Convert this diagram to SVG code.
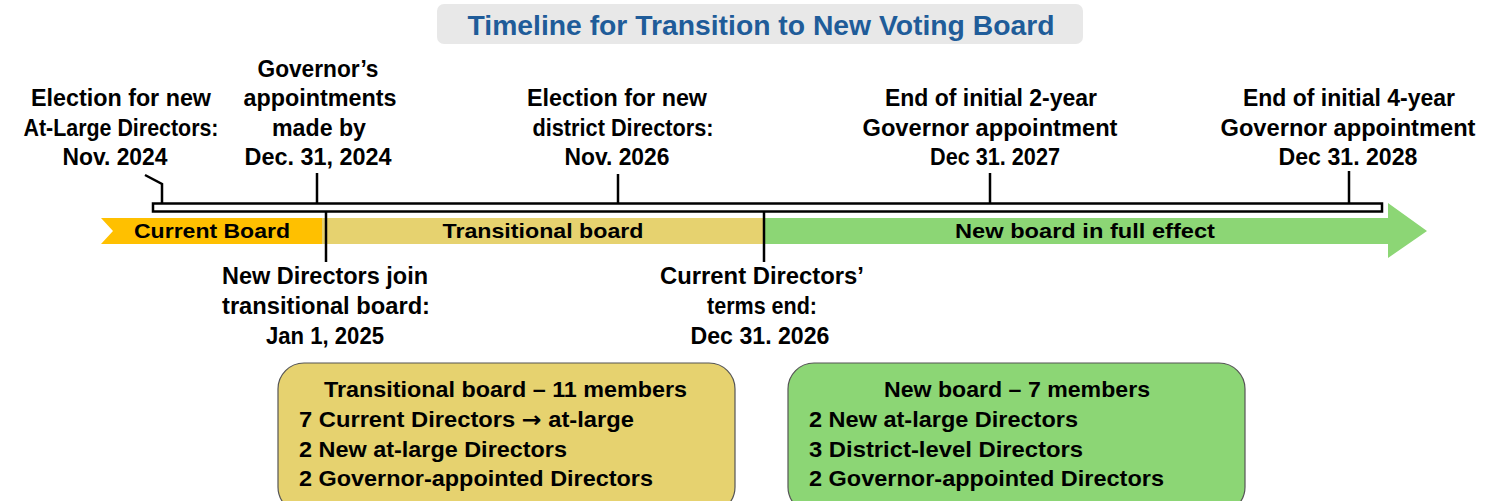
<svg xmlns="http://www.w3.org/2000/svg" width="1494" height="501" viewBox="0 0 1494 501">
  <style>
    text { font-family: "Liberation Sans", "DejaVu Sans", sans-serif; font-weight: bold; fill: #000; }
    .lbl { font-size: 23px; text-anchor: middle; }
    .band { font-size: 21px; text-anchor: middle; }
    .box { font-size: 22px; }
    .arrowglyph { font-family: "DejaVu Sans", sans-serif; }
    .title { font-size: 28px; fill: #1F5C99; text-anchor: middle; }
    .tick { stroke: #000; stroke-width: 2.5; fill: none; }
  </style>

  <rect width="1494" height="501" fill="#ffffff"/>

  <!-- heading -->
  <g id="title">
    <rect x="437" y="4" width="646" height="40" rx="7" fill="#E8E8E8"/>
    <text class="title" x="761" y="35" textLength="587" lengthAdjust="spacingAndGlyphs">Timeline for Transition to New Voting Board</text>
  </g>

  <!-- coloured period bands -->
  <g id="band-current">
    <polygon points="101,218 322,218 322,244 101,244 113,231" fill="#FFC000"/>
    <text class="band" x="212" y="238" textLength="156" lengthAdjust="spacingAndGlyphs">Current Board</text>
  </g>
  <g id="band-transitional">
    <rect x="322" y="218" width="441" height="26" fill="#E6D26F"/>
    <text class="band" x="543" y="238" textLength="201" lengthAdjust="spacingAndGlyphs">Transitional board</text>
  </g>
  <g id="band-new">
    <polygon points="765,218 1388,218 1388,203 1427,231 1388,258 1388,244 765,244" fill="#8CD675"/>
    <text class="band" x="1085" y="238" textLength="260" lengthAdjust="spacingAndGlyphs">New board in full effect</text>
  </g>

  <!-- timeline bar -->
  <g id="timeline">
    <rect x="153" y="203.5" width="1229" height="8" fill="#ffffff" stroke="#000" stroke-width="2.5"/>
  </g>

  <!-- milestone ticks -->
  <g id="connectors">
    <polyline class="tick" points="145,175 162,184 162,203"/>
    <line class="tick" x1="317" y1="173" x2="317" y2="203"/>
    <line class="tick" x1="326" y1="212" x2="326" y2="262"/>
    <line class="tick" x1="618" y1="174" x2="618" y2="203"/>
    <line class="tick" x1="764" y1="212" x2="764" y2="262"/>
    <line class="tick" x1="990" y1="173" x2="990" y2="203"/>
    <line class="tick" x1="1349" y1="171" x2="1349" y2="203"/>
  </g>

  <!-- milestone labels -->
  <g id="m-election-atlarge">
    <text class="lbl" x="121" y="106" textLength="180" lengthAdjust="spacingAndGlyphs">Election for new</text>
    <text class="lbl" x="121" y="136" textLength="195" lengthAdjust="spacingAndGlyphs">At-Large Directors:</text>
    <text class="lbl" x="115" y="165" textLength="105" lengthAdjust="spacingAndGlyphs">Nov. 2024</text>
  </g>
  <g id="m-governor-appointments">
    <text class="lbl" x="318" y="77" textLength="121" lengthAdjust="spacingAndGlyphs">Governor’s</text>
    <text class="lbl" x="320" y="106" textLength="153" lengthAdjust="spacingAndGlyphs">appointments</text>
    <text class="lbl" x="319" y="136" textLength="94" lengthAdjust="spacingAndGlyphs">made by</text>
    <text class="lbl" x="318" y="165" textLength="147" lengthAdjust="spacingAndGlyphs">Dec. 31, 2024</text>
  </g>
  <g id="m-election-district">
    <text class="lbl" x="617" y="106" textLength="180" lengthAdjust="spacingAndGlyphs">Election for new</text>
    <text class="lbl" x="623" y="136" textLength="181" lengthAdjust="spacingAndGlyphs">district Directors:</text>
    <text class="lbl" x="617" y="165" textLength="105" lengthAdjust="spacingAndGlyphs">Nov. 2026</text>
  </g>
  <g id="m-end-2year">
    <text class="lbl" x="991" y="106" textLength="212" lengthAdjust="spacingAndGlyphs">End of initial 2-year</text>
    <text class="lbl" x="990" y="136" textLength="255" lengthAdjust="spacingAndGlyphs">Governor appointment</text>
    <text class="lbl" x="995" y="165" textLength="130" lengthAdjust="spacingAndGlyphs">Dec 31. 2027</text>
  </g>
  <g id="m-end-4year">
    <text class="lbl" x="1349" y="106" textLength="212" lengthAdjust="spacingAndGlyphs">End of initial 4-year</text>
    <text class="lbl" x="1348" y="136" textLength="255" lengthAdjust="spacingAndGlyphs">Governor appointment</text>
    <text class="lbl" x="1348" y="165" textLength="139" lengthAdjust="spacingAndGlyphs">Dec 31. 2028</text>
  </g>
  <g id="m-new-directors-join">
    <text class="lbl" x="325" y="284" textLength="206" lengthAdjust="spacingAndGlyphs">New Directors join</text>
    <text class="lbl" x="326" y="314" textLength="208" lengthAdjust="spacingAndGlyphs">transitional board:</text>
    <text class="lbl" x="325" y="344" textLength="118" lengthAdjust="spacingAndGlyphs">Jan 1, 2025</text>
  </g>
  <g id="m-current-terms-end">
    <text class="lbl" x="762" y="284" textLength="204" lengthAdjust="spacingAndGlyphs">Current Directors’</text>
    <text class="lbl" x="762" y="314" textLength="110" lengthAdjust="spacingAndGlyphs">terms end:</text>
    <text class="lbl" x="760" y="344" textLength="139" lengthAdjust="spacingAndGlyphs">Dec 31. 2026</text>
  </g>

  <!-- board composition boxes -->
  <g id="box-transitional">
    <rect x="278" y="363" width="457" height="150" rx="26" fill="#E6D26F" stroke="#555" stroke-width="1.2"/>
    <text class="box" x="324" y="397" textLength="363" lengthAdjust="spacingAndGlyphs">Transitional board – 11 members</text>
    <text class="box" x="299" y="427" textLength="335" lengthAdjust="spacingAndGlyphs">7 Current Directors <tspan class="arrowglyph">→</tspan> at-large</text>
    <text class="box" x="299" y="457" textLength="268" lengthAdjust="spacingAndGlyphs">2 New at-large Directors</text>
    <text class="box" x="299" y="486" textLength="354" lengthAdjust="spacingAndGlyphs">2 Governor-appointed Directors</text>
  </g>
  <g id="box-new">
    <rect x="788" y="363" width="457" height="150" rx="26" fill="#8CD675" stroke="#555" stroke-width="1.2"/>
    <text class="box" x="884" y="397" textLength="266" lengthAdjust="spacingAndGlyphs">New board – 7 members</text>
    <text class="box" x="809" y="427" textLength="269" lengthAdjust="spacingAndGlyphs">2 New at-large Directors</text>
    <text class="box" x="809" y="457" textLength="274" lengthAdjust="spacingAndGlyphs">3 District-level Directors</text>
    <text class="box" x="809" y="486" textLength="355" lengthAdjust="spacingAndGlyphs">2 Governor-appointed Directors</text>
  </g>
</svg>
